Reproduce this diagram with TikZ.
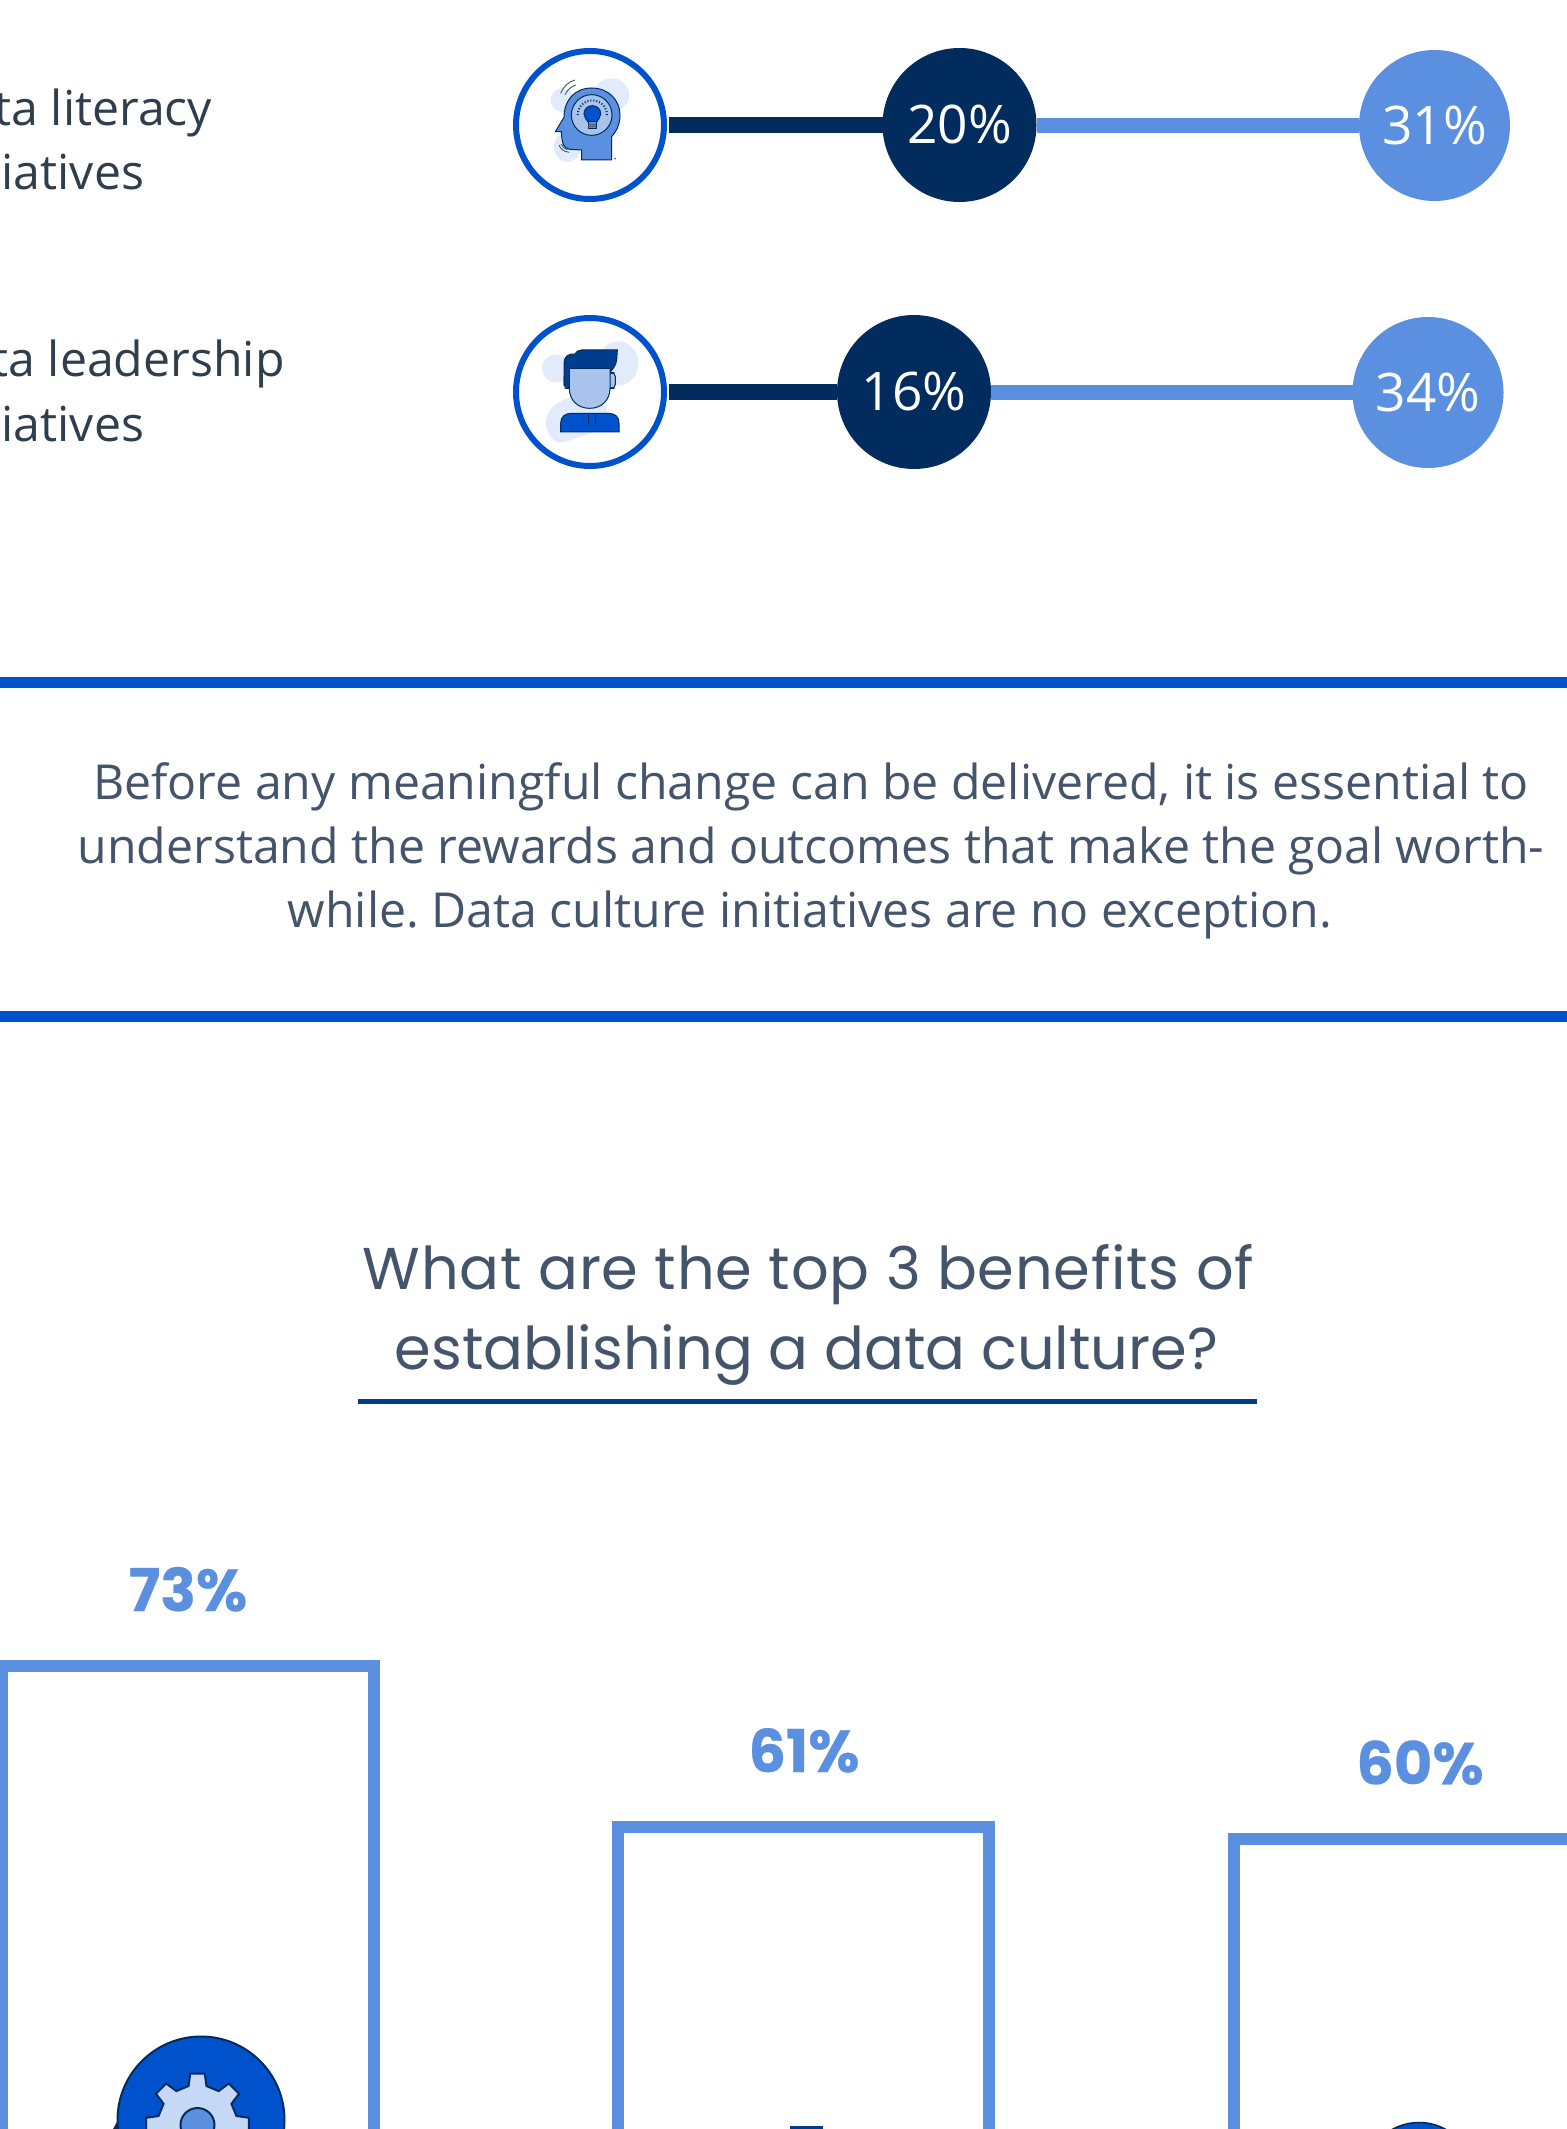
\documentclass[tikz,border=0pt]{standalone}
\usepackage{fontspec}
\setmainfont{Open Sans}
\newfontfamily\headfont{Poppins}
\newfontfamily\pctfont[BoldFeatures={FakeBold=0.4}]{Poppins}
\frenchspacing
\definecolor{navy}{HTML}{022B5E}
\definecolor{sky}{HTML}{5B8FDF}
\definecolor{royal}{HTML}{0052CC}
\definecolor{pale}{HTML}{E1EBFB}
\definecolor{mist}{HTML}{A8C4EC}
\definecolor{frost}{HTML}{C5D8F6}
\definecolor{deep}{HTML}{003D8F}
\definecolor{inkdark}{HTML}{2F3E4C}
\definecolor{inkmid}{HTML}{44546A}
\newcommand{\dotlabel}[1]{\raisebox{0.7pt}{#1}}
\tikzset{
  x=0.5pt,y=-0.5pt,
  iconring/.style={circle,draw=royal,fill=white,line width=3pt,minimum size=74pt,inner sep=0pt},
  navydot/.style={circle,fill=navy,outer sep=0pt,minimum size=77pt,inner sep=0pt,text=white,font=\fontsize{26.6pt}{26.6pt}\selectfont},
  skydot/.style={circle,fill=sky,outer sep=0pt,minimum size=75.5pt,inner sep=0pt,text=white,font=\fontsize{26.6pt}{26.6pt}\selectfont},
  navyline/.style={draw=navy,line width=8pt},
  skyline/.style={draw=sky,line width=7.5pt},
  rowlabel/.style={anchor=base east,inner sep=0pt,text=inkdark,font=\fontsize{24.1pt}{24.1pt}\selectfont},
  paraline/.style={anchor=base,inner sep=0pt,text=inkmid,font=\fontsize{24.1pt}{24.1pt}\selectfont},
  headline/.style={anchor=base,inner sep=0pt,text=inkmid,font=\headfont\fontsize{29.5pt}{29.5pt}\selectfont},
  pctlabel/.style={anchor=base,inner sep=0pt,text=sky,font=\pctfont\bfseries\fontsize{29.5pt}{29.5pt}\selectfont},
  barbox/.style={rectangle,draw=sky,line width=6pt,minimum width=186pt,minimum height=300pt,inner sep=0pt},
  rulebar/.style={draw=royal,line width=5.5pt},
  outline/.style={draw=navy,line width=0.5pt},
  hairline/.style={draw=inkmid,line width=0.45pt},
}
\begin{document}
\begin{tikzpicture}
\useasboundingbox (0,0) rectangle (1567,2129);
\fill[white] (0,0) rectangle (1567,2129);
\clip (0,0) rectangle (1567,2129);

% row labels
\node[rowlabel] (lab1a) at (212.5,125.7) {ta literacy};
\node[rowlabel] (lab1b) at (144.5,190) {tiatives};
\node[rowlabel] (lab2a) at (285,376.7) {ta leadership};
\node[rowlabel] (lab2b) at (144.5,441.7) {tiatives};

% row nodes
\node[iconring] (ic1) at (590,125) {};
\node[iconring] (ic2) at (590,392) {};
\node[navydot] (d1) at (959.5,125) {\dotlabel{20\%}};
\node[skydot] (s1) at (1434.5,125.5) {\dotlabel{31\%}};
\node[navydot] (d2) at (914,392) {\dotlabel{16\%}};
\node[skydot] (s2) at (1428,392.5) {\dotlabel{34\%}};
\draw[navyline,shorten <=1pt] (ic1.east) -- (d1.west);
\draw[skyline] (d1.east |- s1) -- (s1.west);
\draw[navyline,shorten <=1pt] (ic2.east) -- (d2.west);
\draw[skyline] (d2.east |- s2) -- (s2.west);

% head icon
\begin{scope}[shift={(490,30)},scale=1/3]
  \fill[pale] (365,195) ellipse [x radius=53,y radius=50];
  \fill[pale] (218,210) circle [radius=36];
  \fill[pale] (232,350) ellipse [x radius=40,y radius=46];
  \draw[hairline] (212,190) .. controls (220,170) and (235,155) .. (255,150);
  \draw[hairline] (225,194) .. controls (232,180) and (243,170) .. (257,165);
  \draw[hairline] (207,345) .. controls (212,358) and (222,365) .. (238,367);
  \draw[hairline] (213,342) .. controls (217,351) and (224,357) .. (232,359);
  \draw[outline,fill=sky] (275,390) -- (275,360) -- (240,358)
     .. controls (222,355) and (216,345) .. (214,305) -- (196,305) -- (222,262)
     .. controls (222,210) and (255,174) .. (305,174)
     .. controls (355,174) and (390,210) .. (390,255)
     .. controls (390,285) and (378,305) .. (365,320) -- (365,390) -- cycle;
  \draw[outline,fill=mist] (305,255) circle [radius=61];
  \draw[outline,fill=royal] (307,227) .. controls (292,227) and (282,238) .. (282,252)
     .. controls (282,262) and (290,268) .. (294,276) -- (320,276)
     .. controls (324,268) and (332,262) .. (332,252)
     .. controls (332,238) and (322,227) .. (307,227) -- cycle;
  \draw[outline,fill=sky] (294,276) rectangle (319,295);
  \draw[hairline] (294,282) -- (319,282) (294,288) -- (319,288);
  \draw[draw=navy,line width=1pt,dash pattern=on 0.5pt off 1pt] (263,255) arc [start angle=180,end angle=360,radius=44];
  \fill[navy] (375,386) circle [radius=2.5];
\end{scope}

% person icon
\begin{scope}[shift={(490,300)},scale=1/3]
  \fill[pale] (198,205) circle [radius=42];
  \fill[pale] (385,190) ellipse [x radius=60,y radius=66];
  \fill[pale] (168,365) .. controls (170,320) and (220,290) .. (265,290)
     .. controls (320,285) and (355,315) .. (355,350)
     .. controls (355,375) and (330,395) .. (300,400) -- (225,426)
     .. controls (195,435) and (168,405) .. (168,365) -- cycle;
  \draw[outline,fill=mist,rounded corners=2pt] (222,218) rectangle (242,265);
  \draw[outline,fill=mist,rounded corners=2pt] (356,218) rectangle (376,265);
  \draw[outline,fill=deep] (222,255) -- (222,190) .. controls (222,170) and (235,160) .. (255,162)
     .. controls (258,155) and (265,150) .. (275,150) -- (382,150) -- (380,180)
     .. controls (378,195) and (370,205) .. (362,215) -- (240,215) -- (238,262) -- cycle;
  \draw[outline,fill=mist] (238,205) -- (360,205) -- (360,265)
     .. controls (360,300) and (335,325) .. (299,325)
     .. controls (263,325) and (238,300) .. (238,265) -- cycle;
  \draw[outline,fill=royal] (212,396) -- (212,370) .. controls (212,350) and (225,340) .. (245,340)
     -- (355,340) .. controls (375,340) and (387,350) .. (387,370) -- (387,396) -- cycle;
  \draw[outline] (295,345) -- (295,373) (316,345) -- (316,373);
\end{scope}

% rules and paragraph
\coordinate (r1a) at (0,682.5);
\coordinate (r1b) at (1567,682.5);
\coordinate (r2a) at (0,1016.5);
\coordinate (r2b) at (1567,1016.5);
\draw[rulebar] (r1a) -- (r1b);
\draw[rulebar] (r2a) -- (r2b);
\node[paraline] (p1) at (811,799.3) {Before any meaningful change can be delivered, it is essential to};
\node[paraline] (p2) at (811,863.3) {understand the rewards and outcomes that make the goal worth-};
\node[paraline] (p3) at (810,927.3) {while. Data culture initiatives are no exception.};

% heading
\node[headline] (h1) at (808.5,1289) {\addfontfeature{LetterSpace=1.3}What are the top 3 benefits of};
\node[headline] (h2) at (806.5,1369) {establishing a data culture?};
\coordinate (ula) at (358,1401.5);
\coordinate (ulb) at (1257,1401.5);
\draw[draw=deep,line width=2.75pt] (ula) -- (ulb);

% bars
\node[barbox] (box1) at (188,1965.5) {};
\node[barbox,minimum width=185.75pt] (box2) at (803.5,2126.5) {};
\node[barbox] (box3) at (1420,2139) {};
\node[pctlabel] (n1) at (188,1611) {73\%};
\node[pctlabel] (n2) at (804,1772) {61\%};
\node[pctlabel] (n3) at (1420,1784.3) {60\%};

% gear badge
\fill[navy] (113,2129) -- (117,2122) -- (119,2129) -- cycle;
\draw[draw=navy,line width=1pt,fill=royal] (201,2120) circle [radius=83.5];
\begin{scope}[shift={(197.5,2125)}]
  \draw[draw=navy,line width=1pt,fill=frost]
    (-13:40) -- (-8:52) -- (8:52) -- (13:40)
    -- (32:40) -- (37:52) -- (53:52) -- (58:40)
    -- (77:40) -- (82:52) -- (98:52) -- (103:40)
    -- (122:40) -- (127:52) -- (143:52) -- (148:40)
    -- (167:40) -- (172:52) -- (188:52) -- (193:40)
    -- (212:40) -- (217:52) -- (233:52) -- (238:40)
    -- (257:40) -- (262:52) -- (278:52) -- (283:40)
    -- (302:40) -- (307:52) -- (323:52) -- (328:40) -- cycle;
  \draw[draw=navy,line width=1pt,fill=sky] (0,0) circle [radius=17];
\end{scope}

% tops of the other two badges
\fill[deep] (790,2126) rectangle (823,2129);
\draw[draw=navy,line width=0.8pt,fill=royal] (1419,2177.5) circle [radius=55];
\end{tikzpicture}
\end{document}
